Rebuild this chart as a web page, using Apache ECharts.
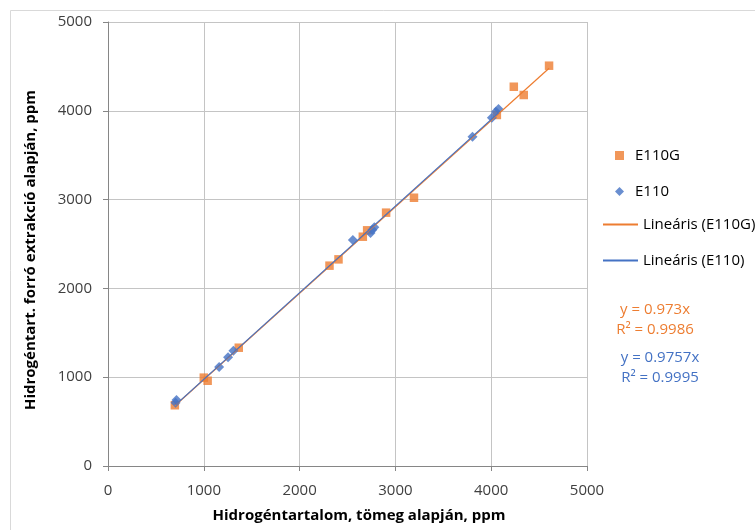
<!DOCTYPE html>
<html><head><meta charset="utf-8">
<script src="https://cdn.jsdelivr.net/npm/echarts@6/dist/echarts.min.js"></script>
<style>html,body{margin:0;padding:0;background:#fff}#c{width:755px;height:530px}</style>
</head><body><div id="c"></div>
<script>
var e110gX = [698, 1000, 1040, 1365, 2312, 2406, 2660, 2705, 2903, 3194, 4059, 4236, 4340, 4604];
var e110gY = [684, 995, 960, 1332, 2256, 2327, 2582, 2654, 2853, 3021, 3953, 4271, 4178, 4508];
var e110X = [705, 715, 1160, 1253, 1309, 2556, 2740, 2760, 2780, 3805, 4007, 4049, 4076];
var e110Y = [712, 743, 1115, 1224, 1298, 2545, 2625, 2660, 2690, 3708, 3922, 3990, 4020];
var slopeG = 0.973, slopeB = 0.9757;
var eqG = ['y = 0.973x', 'R² = 0.9986'];
var eqB = ['y = 0.9757x', 'R² = 0.9995'];
var seriesNames = ['E110G', 'E110', 'Lineáris (E110G)', 'Lineáris (E110)'];
var xTitle = 'Hidrogéntartalom, tömeg alapján, ppm';
var yTitle = 'Hidrogéntart. forró extrakció alapján, ppm';

var ORANGE = '#ED7D31', BLUE = '#4472C4';
var FONT = '"Open Sans"';
var FS = 15;
function pairs(xs, ys){ return xs.map(function(x,i){return [x, ys[i]];}); }
function trend(xs, k){ var a=Math.min.apply(null,xs), b=Math.max.apply(null,xs); return [[a,k*a],[b,k*b]]; }
function plain(v){ return String(v); }

var chart = echarts.init(document.getElementById('c'), null, {renderer:'canvas'});
chart.setOption({
  animation:false,
  backgroundColor:'#fff',
  textStyle:{fontFamily:FONT},
  grid:{left:108, right:168, top:22, bottom:64},
  xAxis:{type:'value', min:0, max:5000, interval:1000,
    axisLine:{show:true, onZero:false, lineStyle:{color:'#868686', width:1}},
    axisTick:{show:true, length:5, lineStyle:{color:'#868686'}},
    axisLabel:{color:'#404040', fontSize:FS, fontFamily:FONT, margin:17, formatter:plain},
    splitLine:{show:true, lineStyle:{color:'#c4c4c4', width:1}}},
  yAxis:{type:'value', min:0, max:5000, interval:1000,
    axisLine:{show:true, onZero:false, lineStyle:{color:'#868686', width:1}},
    axisTick:{show:true, length:5, lineStyle:{color:'#868686'}},
    axisLabel:{color:'#404040', fontSize:FS, fontFamily:FONT, margin:16, formatter:plain},
    splitLine:{show:true, lineStyle:{color:'#c4c4c4', width:1}}},
  legend:[
    {orient:'vertical', left:610, top:143, itemWidth:9, itemHeight:9, itemGap:21,
     symbolKeepAspect:true,
     data:[{name:seriesNames[0], icon:'rect'}, {name:seriesNames[1], icon:'diamond'}],
     textStyle:{color:'#000', fontSize:FS, fontFamily:FONT, lineHeight:14, padding:[0,0,0,6]}},
    {orient:'vertical', left:597, top:212, itemWidth:35, itemHeight:14, itemGap:21,
     itemStyle:{opacity:0},
     data:[seriesNames[2], seriesNames[3]],
     textStyle:{color:'#000', fontSize:FS, fontFamily:FONT, lineHeight:14}}
  ],
  series:[
    {name:seriesNames[0], type:'scatter', symbol:'rect', symbolSize:8.5, z:2,
     itemStyle:{color:ORANGE}, data:pairs(e110gX, e110gY)},
    {name:seriesNames[1], type:'scatter', symbol:'diamond', symbolSize:[10,10], z:3,
     itemStyle:{color:BLUE}, data:pairs(e110X, e110Y)},
    {name:seriesNames[2], type:'line', symbol:'none', z:4, silent:true,
     lineStyle:{color:ORANGE, width:1.2}, itemStyle:{color:ORANGE}, data:trend(e110gX, slopeG)},
    {name:seriesNames[3], type:'line', symbol:'none', z:5, silent:true,
     lineStyle:{color:BLUE, width:1.2}, itemStyle:{color:BLUE}, data:trend(e110X, slopeB)}
  ],
  graphic:[
    {type:'rect', shape:{x:10.5, y:10.5, width:800, height:600}, style:{fill:null, stroke:'#d9d9d9', lineWidth:1}, silent:true, z:-1},
    {type:'text', x:359, y:516, style:{text:xTitle, fontFamily:FONT, fontSize:FS, fontWeight:'bold', fill:'#000', align:'center', verticalAlign:'middle'}},
    {type:'text', x:31, y:250, rotation:Math.PI/2, style:{text:yTitle, fontFamily:FONT, fontSize:FS, fontWeight:'bold', fill:'#000', align:'center', verticalAlign:'middle'}},
    {type:'text', x:655, y:310, style:{text:eqG[0], fontFamily:FONT, fontSize:FS, fill:ORANGE, align:'center', verticalAlign:'middle'}},
    {type:'text', x:655, y:330, style:{text:eqG[1], fontFamily:FONT, fontSize:FS, fill:ORANGE, align:'center', verticalAlign:'middle'}},
    {type:'text', x:660, y:358, style:{text:eqB[0], fontFamily:FONT, fontSize:FS, fill:BLUE, align:'center', verticalAlign:'middle'}},
    {type:'text', x:660, y:378, style:{text:eqB[1], fontFamily:FONT, fontSize:FS, fill:BLUE, align:'center', verticalAlign:'middle'}}
  ]
});
</script></body></html>
